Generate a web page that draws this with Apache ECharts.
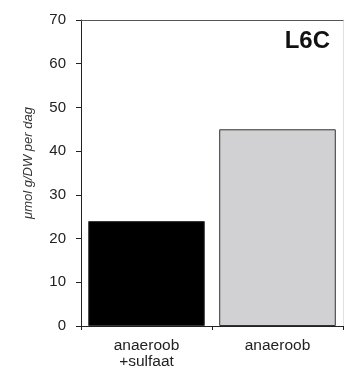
<!DOCTYPE html>
<html>
<head>
<meta charset="utf-8">
<script src="https://cdn.jsdelivr.net/npm/echarts@6/dist/echarts.min.js"></script>
<style>
  html, body { margin: 0; padding: 0; background: #fff; }
  #chart { width: 344px; height: 372px; }
</style>
</head>
<body>
<div id="chart"></div>
<script>
// Sulfide production per condition, sample L6C
const categories = ['anaeroob\n+sulfaat', 'anaeroob'];
const values = [24, 45];
const barColors = ['#000000', '#d1d0d2'];
const yTicks = [0, 10, 20, 30, 40, 50, 60, 70];

const chart = echarts.init(document.getElementById('chart'), null, { renderer: 'canvas' });

const font = 'Liberation Sans, Arial, sans-serif';

chart.setOption({
  animation: false,
  backgroundColor: '#ffffff',
  title: {
    text: 'L6C',
    right: 9,
    top: 24,
    textStyle: { fontFamily: font, fontWeight: 'bold', fontSize: 24, color: '#111' }
  },
  grid: { left: 81, right: 1, top: 20, bottom: 46 },
  xAxis: [{
    type: 'category',
    data: categories,
    axisLine: { lineStyle: { color: '#222', width: 1 } },
    axisTick: { show: true, length: 4, alignWithLabel: false, lineStyle: { color: '#222' } },
    axisLabel: {
      fontFamily: font, fontSize: 15.5, color: '#222', margin: 12, lineHeight: 16
    }
  }, {
    type: 'category',
    position: 'top',
    data: categories,
    axisLine: { show: true, onZero: false, lineStyle: { color: '#555', width: 1 } },
    axisTick: { show: false },
    axisLabel: { show: false }
  }],
  yAxis: [{
    type: 'value',
    min: yTicks[0],
    max: yTicks[yTicks.length - 1],
    interval: 10,
    name: 'μmol g/DW per dag',
    nameLocation: 'middle',
    nameGap: 46,
    nameTextStyle: { fontFamily: font, fontSize: 13, fontStyle: 'italic', color: '#333', padding: [0, 0, 0, 20] },
    axisLine: { show: true, lineStyle: { color: '#222', width: 1 } },
    axisTick: { show: true, length: 5, lineStyle: { color: '#222' } },
    axisLabel: { fontFamily: font, fontSize: 15, color: '#222', margin: 15 },
    splitLine: { show: false }
  }, {
    type: 'value',
    position: 'right',
    min: yTicks[0],
    max: yTicks[yTicks.length - 1],
    interval: 10,
    axisLine: { show: true, lineStyle: { color: '#e0e0e0', width: 1 } },
    axisTick: { show: false },
    axisLabel: { show: false },
    splitLine: { show: false }
  }],
  series: [{
    type: 'bar',
    data: values.map((v, i) => ({
      value: v,
      itemStyle: { color: barColors[i], borderColor: '#333', borderWidth: 1 }
    })),
    barWidth: '89%'
  }]
});
</script>
</body>
</html>
